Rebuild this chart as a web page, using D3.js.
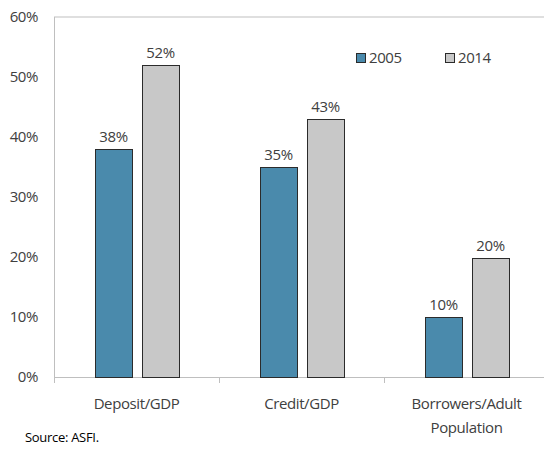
<!DOCTYPE html>
<html>
<head>
<meta charset="utf-8">
<script src="https://cdn.jsdelivr.net/npm/d3@7"></script>
<style>
  body { margin: 0; background: #fff; }
  text { font-family: "Open Sans", sans-serif; fill: #404040; }
  .lbl { font-size: 15px; letter-spacing: -0.4px; }
</style>
</head>
<body>
<div id="chart"></div>
<script>
// values (percent)
const categories = ['Deposit/GDP', 'Credit/GDP', 'Borrowers/Adult Population'];
const seriesNames = ['2005', '2014'];
const values2005 = [38, 35, 10];
const values2014 = [52, 43, 19.8];
const yTicks = [0, 10, 20, 30, 40, 50, 60];
const colors = ['#4a8aac', '#c8c8c8'];

let width = 544, height = 451;
let margin = {top: 17, left: 54, bottom: 74, right: -5};

let svg = d3.select('#chart').append('svg')
    .attr('width', width)
    .attr('height', height);

let yScale = d3.scaleLinear()
    .domain([0, 60])
    .range([height - margin.bottom, margin.top]);

let xScale = d3.scaleBand()
    .domain(categories)
    .range([margin.left, width - margin.right])
    .paddingInner(0);

let groupWidth = 84;
let x1 = d3.scaleBand()
    .domain(seriesNames)
    .range([0, groupWidth])
    .paddingInner(10 / 47);

let rows = categories.map((c, i) => ({cat: c, vals: [values2005[i], values2014[i]]}));

// frame: top line, left axis, baseline
let axisColor = '#bfbfbf';
svg.append('line')
    .attr('x1', margin.left).attr('x2', width)
    .attr('y1', yScale(60)).attr('y2', yScale(60))
    .attr('stroke', axisColor);
svg.append('line')
    .attr('x1', margin.left + 0.5).attr('x2', margin.left + 0.5)
    .attr('y1', yScale(60)).attr('y2', yScale(0) + 6)
    .attr('stroke', axisColor);
svg.append('line')
    .attr('x1', margin.left).attr('x2', width)
    .attr('y1', yScale(0) + 0.5).attr('y2', yScale(0) + 0.5)
    .attr('stroke', axisColor);

// x ticks between categories
let tickXs = categories.slice(1).map(c => xScale(c));
svg.selectAll('.xtick')
    .data(tickXs)
    .enter().append('line')
    .attr('x1', d => Math.round(d) + 0.5).attr('x2', d => Math.round(d) + 0.5)
    .attr('y1', yScale(0)).attr('y2', yScale(0) + 6)
    .attr('stroke', axisColor);

// y tick labels
svg.selectAll('.ylab')
    .data(yTicks)
    .enter().append('text')
    .attr('class', 'lbl')
    .attr('x', 38)
    .attr('y', d => yScale(d))
    .attr('dy', '0.35em')
    .attr('text-anchor', 'end')
    .text(d => d + '%');

// bars
let groups = svg.selectAll('.grp')
    .data(rows)
    .enter().append('g')
    .attr('transform', d => 'translate(' + (xScale(d.cat) + (xScale.bandwidth() - groupWidth) / 2 + 0.5) + ',0)');

groups.selectAll('rect')
    .data(d => d.vals.map((v, j) => ({s: seriesNames[j], v: v, j: j})))
    .enter().append('rect')
    .attr('x', d => Math.round(x1(d.s)) + 0.5)
    .attr('y', d => Math.round(yScale(d.v)) + 0.5)
    .attr('width', Math.round(x1.bandwidth()))
    .attr('height', d => yScale(0) - Math.round(yScale(d.v)))
    .attr('fill', d => colors[d.j])
    .attr('stroke', '#2b2b2b')
    .attr('stroke-width', 1);

groups.selectAll('.val')
    .data(d => d.vals.map((v, j) => ({s: seriesNames[j], v: v})))
    .enter().append('text')
    .attr('class', 'lbl')
    .attr('x', d => x1(d.s) + x1.bandwidth() / 2)
    .attr('y', d => yScale(d.v) - 7)
    .attr('text-anchor', 'middle')
    .text(d => Math.round(d.v) + '%');

// category labels
let catLabels = svg.selectAll('.cat')
    .data(categories)
    .enter().append('text')
    .attr('class', 'lbl')
    .attr('x', d => xScale(d) + xScale.bandwidth() / 2)
    .attr('y', 409)
    .attr('text-anchor', 'middle');
catLabels.each(function(d) {
    let t = d3.select(this);
    let parts = d === 'Borrowers/Adult Population' ? ['Borrowers/Adult', 'Population'] : [d];
    parts.forEach((p, k) => {
        t.append('tspan')
            .attr('x', xScale(d) + xScale.bandwidth() / 2)
            .attr('dy', k === 0 ? 0 : 24)
            .text(p);
    });
});

// legend
let legendX = [356, 445];
let legend = svg.selectAll('.leg')
    .data(seriesNames)
    .enter().append('g')
    .attr('transform', (d, i) => 'translate(' + legendX[i] + ',53)');
legend.append('rect')
    .attr('x', 0.5).attr('y', 0.5)
    .attr('width', 9).attr('height', 9)
    .attr('fill', (d, i) => colors[i])
    .attr('stroke', '#2b2b2b');
legend.append('text')
    .attr('class', 'lbl')
    .attr('x', 13)
    .attr('y', 5)
    .attr('dy', '0.35em')
    .text(d => d);

// source
svg.append('text')
    .attr('x', 25)
    .attr('y', 442)
    .style('font-size', '13px')
    .style('letter-spacing', '-0.3px')
    .style('fill', '#000')
    .text('Source: ASFI.');
</script>
</body>
</html>
